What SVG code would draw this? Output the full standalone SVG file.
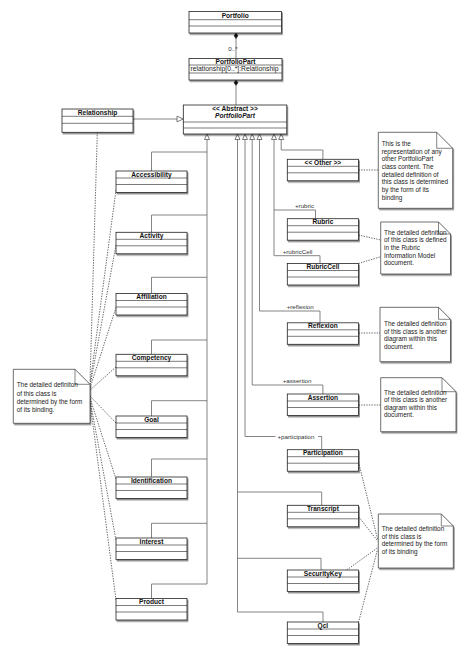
<svg xmlns="http://www.w3.org/2000/svg" width="467" height="654" viewBox="0 0 467 654">
<style>
.box{fill:#fff;stroke:#222;stroke-width:0.8;filter:url(#sh)}
.sep{stroke:#222;stroke-width:0.6}
.t{font-family:"Liberation Sans",Arial,sans-serif;font-size:6.6px;font-weight:bold;text-anchor:middle;fill:#111}
.ti{font-family:"Liberation Sans",Arial,sans-serif;font-size:6.6px;font-weight:bold;font-style:italic;text-anchor:middle;fill:#111}
.a{font-family:"Liberation Sans",Arial,sans-serif;font-size:6.6px;fill:#222}
.n{font-family:"Liberation Sans",Arial,sans-serif;font-size:6.4px;fill:#222}
.l{font-family:"Liberation Sans",Arial,sans-serif;font-size:6.2px;fill:#333}
.c{fill:none;stroke:#666;stroke-width:0.8}
.d{fill:none;stroke:#444;stroke-width:0.8;stroke-dasharray:1.4 1.2}
.note{fill:#fff;stroke:#333;stroke-width:0.7;filter:url(#sh)}
.fold{fill:none;stroke:#333;stroke-width:0.6}
.tri{fill:#fff;stroke:#444;stroke-width:0.7}
.dia{fill:#111;stroke:#111;stroke-width:0.5}
</style>
<defs>
<filter id="sh" x="-10%" y="-10%" width="130%" height="140%">
<feDropShadow dx="1" dy="1.5" stdDeviation="0.7" flood-color="#000" flood-opacity="0.45"/>
</filter>
</defs>
<rect width="467" height="654" fill="#fff"/>

<g id="connectors">
<!-- composition -->
<line class="c" x1="236" y1="38" x2="236" y2="58.5"/>
<polygon class="dia" points="236,33 238,35.8 236,38.6 234,35.8"/>
<text class="l" x="233" y="50.5" text-anchor="middle">0..*</text>
<line class="c" x1="236" y1="85.6" x2="236" y2="105"/>
<polygon class="dia" points="236,80 238,82.8 236,85.6 234,82.8"/>
<!-- Relationship generalization -->
<line class="c" x1="133" y1="119" x2="177" y2="119"/>
<polygon class="tri" points="183.3,119 177,116.2 177,121.8"/>
<!-- inheritance trunks -->
<g>
<polygon class="tri" points="207,134 204.5,139.5 209.5,139.5"/>
<polygon class="tri" points="237.5,134 235,139.5 240,139.5"/>
<polygon class="tri" points="245,134 242.5,139.5 247.5,139.5"/>
<polygon class="tri" points="252.2,134 249.7,139.5 254.7,139.5"/>
<polygon class="tri" points="259.5,134 257,139.5 262,139.5"/>
<polygon class="tri" points="274,134 271.5,139.5 276.5,139.5"/>
<polygon class="tri" points="281.2,134 278.7,139.5 283.7,139.5"/>
</g>
<!-- left trunk -->
<path class="c" d="M207,139.5 V584"/>
<path class="c" d="M207,152 H151.5 V171"/>
<path class="c" d="M207,215 H151.5 V232.3"/>
<path class="c" d="M207,277.3 H151.5 V293.5"/>
<path class="c" d="M207,340 H151.5 V354.3"/>
<path class="c" d="M207,400.7 H151.5 V416"/>
<path class="c" d="M207,459 H151.5 V477"/>
<path class="c" d="M207,523.3 H151.5 V538"/>
<path class="c" d="M207,584 H151.5 V598.5"/>
<!-- right trunks -->
<path class="c" d="M281.2,139.5 V150 H322.9 V159.3"/>
<path class="c" d="M274,139.5 V255.7"/>
<path class="c" d="M274,210 H315.5 V218.7"/>
<path class="c" d="M274,255.7 H320 V263.5"/>
<path class="c" d="M259.5,139.5 V311 H320 V322.8"/>
<path class="c" d="M252.2,139.5 V385 H322.9 V394"/>
<path class="c" d="M245,139.5 V436.5 H275.5"/>
<path class="c" d="M318,436.5 H321.7 V449.7"/>
<path class="c" d="M237.5,139.5 V612"/>
<path class="c" d="M237.5,492 H321.7 V505.3"/>
<path class="c" d="M237.5,558.3 H321 V570"/>
<path class="c" d="M237.5,612 H323 V622"/>
<!-- role labels -->
<text class="l" x="295" y="208">+rubric</text>
<text class="l" x="282.7" y="253.8">+rubricCell</text>
<text class="l" x="286.7" y="309">+reflexion</text>
<text class="l" x="282.7" y="382.8">+assertion</text>
<text class="l" x="277.5" y="438.8">+participation</text>
<!-- note links right -->
<line class="d" x1="358.5" y1="170" x2="378.3" y2="170"/>
<line class="d" x1="358.5" y1="235" x2="380.7" y2="240"/>
<line class="d" x1="358.5" y1="263.5" x2="380.7" y2="256.7"/>
<line class="d" x1="358.5" y1="333" x2="380" y2="333"/>
<line class="d" x1="358.5" y1="405" x2="380.7" y2="405"/>
<line class="d" x1="358.5" y1="462" x2="377.8" y2="540"/>
<line class="d" x1="358.5" y1="516.5" x2="378" y2="541.5"/>
<line class="d" x1="346.7" y1="570" x2="378" y2="547.5"/>
<line class="d" x1="358.5" y1="622.5" x2="377.5" y2="549.5"/>
<!-- note links left -->
<line class="d" x1="97.3" y1="132.3" x2="90" y2="382"/>
<line class="d" x1="116" y1="190" x2="90" y2="384"/>
<line class="d" x1="116" y1="245" x2="90" y2="386"/>
<line class="d" x1="116" y1="307.5" x2="90" y2="388"/>
<line class="d" x1="116" y1="367" x2="90" y2="390"/>
<line class="d" x1="116" y1="423" x2="90" y2="396"/>
<line class="d" x1="116" y1="479" x2="90" y2="398"/>
<line class="d" x1="116" y1="540" x2="90" y2="400"/>
<line class="d" x1="116" y1="600" x2="90" y2="402"/>
</g>

<g id="portfolio">
<rect class="box" x="189" y="11.5" width="92.5" height="21.5"/>
<line class="sep" x1="189" y1="19.7" x2="281.5" y2="19.7"/>
<line class="sep" x1="189" y1="26" x2="281.5" y2="26"/>
<text class="t" x="235.2" y="17.6">Portfolio</text>
</g>
<g id="portfoliopart">
<rect class="box" x="189" y="58.5" width="93" height="21.5"/>
<line class="sep" x1="189" y1="65" x2="282" y2="65"/>
<line class="sep" x1="189" y1="73" x2="282" y2="73"/>
<text class="t" x="235.5" y="63.8">PortfolioPart</text>
<text class="a" x="190.5" y="71.3" textLength="88" lengthAdjust="spacingAndGlyphs">relationship[0..*]:Relationship</text>
</g>
<g id="abstract-portfoliopart">
<rect class="box" x="183.3" y="105" width="103.5" height="29"/>
<line class="sep" x1="183.3" y1="122" x2="286.8" y2="122"/>
<line class="sep" x1="183.3" y1="128" x2="286.8" y2="128"/>
<text class="t" x="235" y="110.8">&lt;&lt; Abstract &gt;&gt;</text>
<text class="ti" x="235" y="117.8">PortfolioPart</text>
</g>
<g id="relationship">
<rect class="box" x="62" y="109" width="71" height="23.3"/>
<line class="sep" x1="62" y1="116.3" x2="133" y2="116.3"/>
<line class="sep" x1="62" y1="123.3" x2="133" y2="123.3"/>
<text class="t" x="97.5" y="115">Relationship</text>
</g>

<g id="accessibility">
<rect class="box" x="116" y="171" width="71" height="21.5"/>
<line class="sep" x1="116" y1="178" x2="187" y2="178"/><line class="sep" x1="116" y1="184.5" x2="187" y2="184.5"/>
<text class="t" x="151.5" y="176.6">Accessibility</text>
</g>
<g id="activity">
<rect class="box" x="116" y="232.3" width="71" height="21.5"/>
<line class="sep" x1="116" y1="239.3" x2="187" y2="239.3"/><line class="sep" x1="116" y1="245.8" x2="187" y2="245.8"/>
<text class="t" x="151.5" y="237.9">Activity</text>
</g>
<g id="affiliation">
<rect class="box" x="116" y="293.5" width="71" height="21.5"/>
<line class="sep" x1="116" y1="300.5" x2="187" y2="300.5"/><line class="sep" x1="116" y1="307" x2="187" y2="307"/>
<text class="t" x="151.5" y="299.1">Affiliation</text>
</g>
<g id="competency">
<rect class="box" x="116" y="354.3" width="71" height="21.5"/>
<line class="sep" x1="116" y1="361.3" x2="187" y2="361.3"/><line class="sep" x1="116" y1="367.8" x2="187" y2="367.8"/>
<text class="t" x="151.5" y="359.9">Competency</text>
</g>
<g id="goal">
<rect class="box" x="116" y="416" width="71" height="21.5"/>
<line class="sep" x1="116" y1="423" x2="187" y2="423"/><line class="sep" x1="116" y1="429.5" x2="187" y2="429.5"/>
<text class="t" x="151.5" y="421.6">Goal</text>
</g>
<g id="identification">
<rect class="box" x="116" y="477" width="71" height="21.5"/>
<line class="sep" x1="116" y1="484" x2="187" y2="484"/><line class="sep" x1="116" y1="490.5" x2="187" y2="490.5"/>
<text class="t" x="151.5" y="482.6">Identification</text>
</g>
<g id="interest">
<rect class="box" x="116" y="538" width="71" height="21.5"/>
<line class="sep" x1="116" y1="545" x2="187" y2="545"/><line class="sep" x1="116" y1="551.5" x2="187" y2="551.5"/>
<text class="t" x="151.5" y="543.6">Interest</text>
</g>
<g id="product">
<rect class="box" x="116" y="598.5" width="71" height="21.5"/>
<line class="sep" x1="116" y1="605.5" x2="187" y2="605.5"/><line class="sep" x1="116" y1="612" x2="187" y2="612"/>
<text class="t" x="151.5" y="604.1">Product</text>
</g>

<g id="other">
<rect class="box" x="287.3" y="159.3" width="71.2" height="21.5"/>
<line class="sep" x1="287.3" y1="166.3" x2="358.5" y2="166.3"/><line class="sep" x1="287.3" y1="172.8" x2="358.5" y2="172.8"/>
<text class="t" x="322.9" y="164.9">&lt;&lt; Other &gt;&gt;</text>
</g>
<g id="rubric">
<rect class="box" x="287.3" y="218.7" width="71.2" height="21.5"/>
<line class="sep" x1="287.3" y1="225.7" x2="358.5" y2="225.7"/><line class="sep" x1="287.3" y1="232.2" x2="358.5" y2="232.2"/>
<text class="t" x="322.9" y="224.3">Rubric</text>
</g>
<g id="rubriccell">
<rect class="box" x="287.3" y="263.5" width="71.2" height="21.5"/>
<line class="sep" x1="287.3" y1="270.5" x2="358.5" y2="270.5"/><line class="sep" x1="287.3" y1="277" x2="358.5" y2="277"/>
<text class="t" x="322.9" y="269.1">RubricCell</text>
</g>
<g id="reflexion">
<rect class="box" x="287.3" y="322.8" width="71.2" height="21.5"/>
<line class="sep" x1="287.3" y1="329.8" x2="358.5" y2="329.8"/><line class="sep" x1="287.3" y1="336.3" x2="358.5" y2="336.3"/>
<text class="t" x="322.9" y="328.4">Reflexion</text>
</g>
<g id="assertion">
<rect class="box" x="287.3" y="394" width="71.2" height="21.5"/>
<line class="sep" x1="287.3" y1="401" x2="358.5" y2="401"/><line class="sep" x1="287.3" y1="407.5" x2="358.5" y2="407.5"/>
<text class="t" x="322.9" y="399.6">Assertion</text>
</g>
<g id="participation">
<rect class="box" x="287.3" y="449.7" width="71.2" height="21.5"/>
<line class="sep" x1="287.3" y1="456.7" x2="358.5" y2="456.7"/><line class="sep" x1="287.3" y1="463.2" x2="358.5" y2="463.2"/>
<text class="t" x="322.9" y="455.3">Participation</text>
</g>
<g id="transcript">
<rect class="box" x="287.3" y="505.3" width="71.2" height="21.5"/>
<line class="sep" x1="287.3" y1="512.3" x2="358.5" y2="512.3"/><line class="sep" x1="287.3" y1="518.8" x2="358.5" y2="518.8"/>
<text class="t" x="322.9" y="510.9">Transcript</text>
</g>
<g id="securitykey">
<rect class="box" x="287.3" y="570" width="71.2" height="21.5"/>
<line class="sep" x1="287.3" y1="577" x2="358.5" y2="577"/><line class="sep" x1="287.3" y1="583.5" x2="358.5" y2="583.5"/>
<text class="t" x="322.9" y="575.6">SecurityKey</text>
</g>
<g id="qcl">
<rect class="box" x="287.3" y="622" width="71.2" height="21.5"/>
<line class="sep" x1="287.3" y1="629" x2="358.5" y2="629"/><line class="sep" x1="287.3" y1="635.5" x2="358.5" y2="635.5"/>
<text class="t" x="322.9" y="627.6">Qcl</text>
</g>

<g id="note-other">
<path class="note" d="M378.3,132.3 H436.7 L452.7,148.3 V208.3 H378.3 Z"/>
<path class="fold" d="M436.7,132.3 V148.3 H452.7"/>
<text class="n" x="381.7"><tspan x="381.7" y="146.3">This is the</tspan><tspan x="381.7" y="154">representation of any</tspan><tspan x="381.7" y="161.4">other PortfolioPart</tspan><tspan x="381.7" y="169">class content.  The</tspan><tspan x="381.7" y="176.6">detailed definition of</tspan><tspan x="381.7" y="184">this class is determined</tspan><tspan x="381.7" y="192">by the form of its</tspan><tspan x="381.7" y="199.6">binding</tspan></text>
</g>
<g id="note-rubric">
<path class="note" d="M380.7,222 H438.5 L450.5,234 V274 H380.7 Z"/>
<path class="fold" d="M438.5,222 V234 H450.5"/>
<text class="n"><tspan x="384" y="234.6">The detailed definition</tspan><tspan x="384" y="242.3">of this class is defined</tspan><tspan x="384" y="250">in the Rubric</tspan><tspan x="384" y="257.6">Information Model</tspan><tspan x="384" y="265.3">document.</tspan></text>
</g>
<g id="note-reflexion">
<path class="note" d="M380,307.3 H438.5 L450.5,319.3 V361.7 H380 Z"/>
<path class="fold" d="M438.5,307.3 V319.3 H450.5"/>
<text class="n"><tspan x="384" y="326.3">The detailed definition</tspan><tspan x="384" y="334">of this class is another</tspan><tspan x="384" y="341.3">diagram within this</tspan><tspan x="384" y="348.6">document.</tspan></text>
</g>
<g id="note-assertion">
<path class="note" d="M380.7,377.7 H442 L456,391.7 V431.7 H380.7 Z"/>
<path class="fold" d="M442,377.7 V391.7 H456"/>
<text class="n"><tspan x="384" y="395">The detailed definition</tspan><tspan x="384" y="402.3">of this class is another</tspan><tspan x="384" y="410">diagram within this</tspan><tspan x="384" y="417.3">document.</tspan></text>
</g>
<g id="note-binding-right">
<path class="note" d="M378.3,514 H441.3 L453.3,526 V568 H378.3 Z"/>
<path class="fold" d="M441.3,514 V526 H453.3"/>
<text class="n"><tspan x="381.7" y="531.3">The detailed definition</tspan><tspan x="381.7" y="539">of this class is</tspan><tspan x="381.7" y="546.3">determined by the form</tspan><tspan x="381.7" y="554">of its binding</tspan></text>
</g>
<g id="note-binding-left">
<path class="note" d="M13.3,369.3 H75 L90,384.3 V423.3 H13.3 Z"/>
<path class="fold" d="M75,369.3 V384.3 H90"/>
<text class="n"><tspan x="16.7" y="387.3">The detailed definiton</tspan><tspan x="16.7" y="395.6">of this class is</tspan><tspan x="16.7" y="404">determined by the form</tspan><tspan x="16.7" y="412.3">of its binding.</tspan></text>
</g>
</svg>
